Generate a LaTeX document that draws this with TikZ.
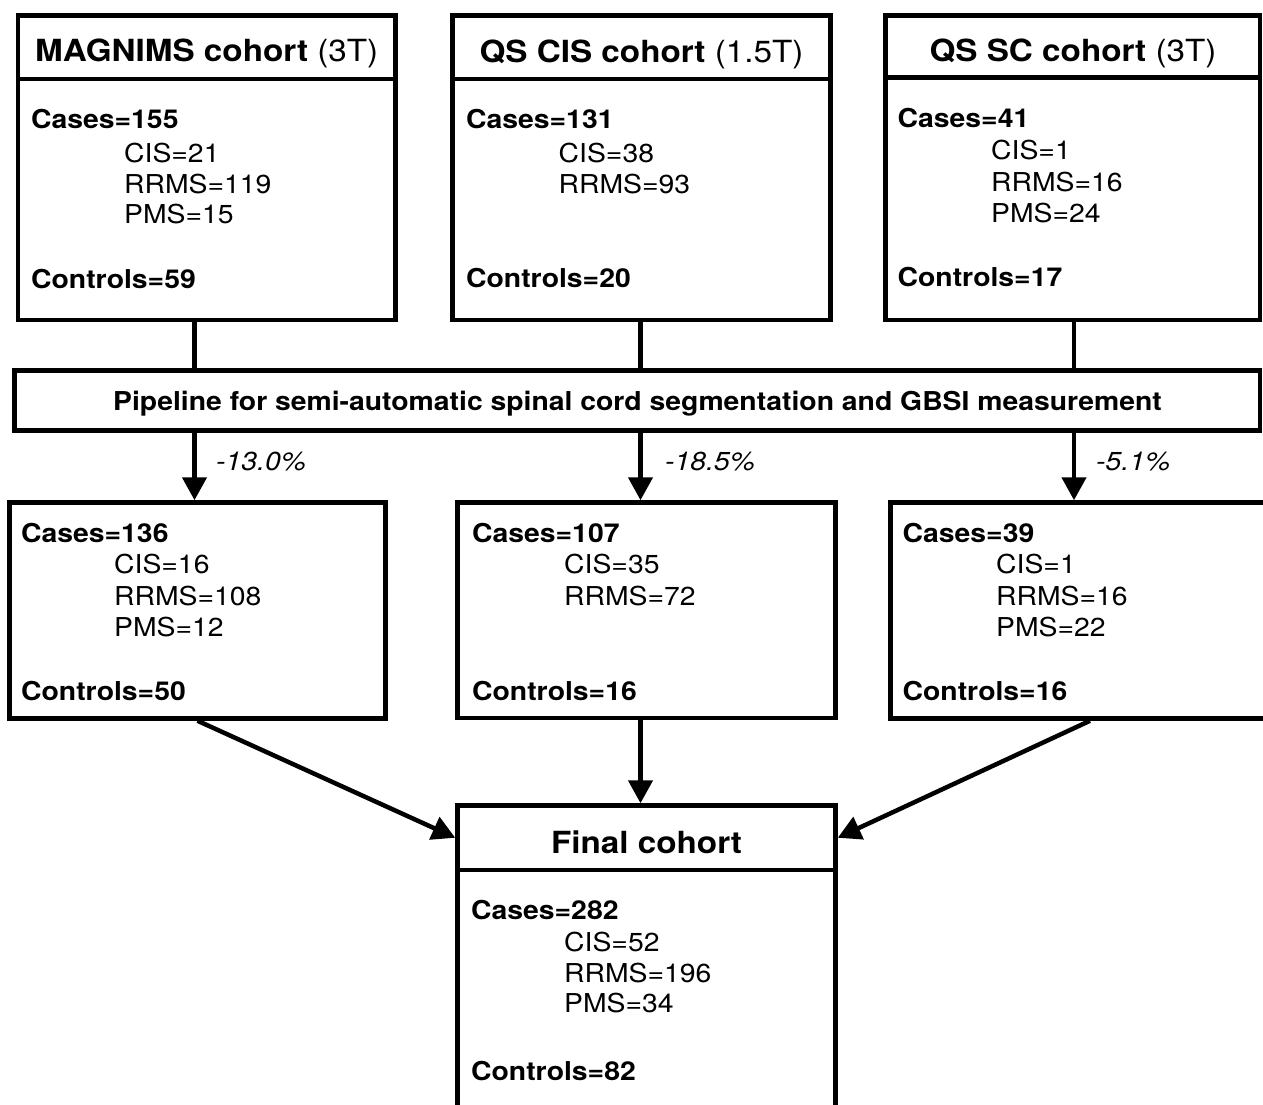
\documentclass[tikz,border=0pt]{standalone}
\usepackage{fontspec}
\setmainfont{TeX Gyre Heros}[FakeStretch=1.09]
\usetikzlibrary{arrows.meta}
\tikzset{
  frame/.style={draw=black, line width=4.5pt, inner sep=0pt, outer sep=2.25pt, rectangle, fill=white},
  body/.style={anchor=base west, inner sep=0pt, font=\fontsize{26}{31}\selectfont},
  bodyb/.style={anchor=base west, inner sep=0pt, font=\fontsize{26}{31}\selectfont\bfseries},
  head/.style={anchor=base, inner sep=0pt, font=\fontsize{30.5}{36}\selectfont},
  pipetext/.style={anchor=base, inner sep=0pt, font=\fontsize{26}{31}\selectfont\bfseries},
  pct/.style={anchor=base west, inner sep=0pt, font=\fontsize{26}{31}\selectfont\itshape},
  link/.style={line width=4.5pt},
  arr/.style={line width=4.5pt, -{Triangle[length=23pt,width=24pt]}},
}
\newcommand\mkbox[5]{%
  \pgfmathsetmacro\bxw{#4-#2}\pgfmathsetmacro\bxh{#5-#3}%
  \pgfmathsetmacro\bxc{(#2+#4)/2}\pgfmathsetmacro\byc{(#3+#5)/2}%
  \node[frame, minimum width=\bxw pt, minimum height=\bxh pt] (#1) at (\bxc,\byc) {};}
\begin{document}
\begin{tikzpicture}[x=1pt,y=-1pt]
\useasboundingbox (0,0) rectangle (1263,1104);
\clip (0,0) rectangle (1263,1104);
\fill[white] (0,0) rectangle (1263,1104);

% boxes
\mkbox{h1}{18}{15.5}{395.5}{79}
\mkbox{b1}{18}{79}{395.5}{320}
\mkbox{h2}{452.5}{15.5}{830.5}{79}
\mkbox{b2}{452.5}{79}{830.5}{320}
\mkbox{h3}{885.5}{15.5}{1260}{77.5}
\mkbox{b3}{885.5}{77.5}{1260}{320}
\mkbox{pipe}{14.5}{370.5}{1260}{430.5}
\mkbox{m1}{9.5}{502.5}{385.5}{718.5}
\mkbox{m2}{457.5}{502.5}{835.5}{718}
\mkbox{m3}{890.5}{502.5}{1290}{718.5}
\mkbox{fh}{457.5}{805.5}{835.5}{870}
\mkbox{fb}{457.5}{870}{835.5}{1120}

% column coordinates
\coordinate (c1) at (194.5,0);
\coordinate (c2) at (640.5,0);
\coordinate (c3) at (1074,0);
\coordinate (d3) at (1090,0);

% connectors
\draw[link] (b1.south -| c1) -- (pipe.north -| c1);
\draw[link] (b2.south -| c2) -- (pipe.north -| c2);
\draw[link] (b3.south -| c3) -- (pipe.north -| c3);
\draw[arr] (pipe.south -| c1) -- (m1.north -| c1);
\draw[arr] (pipe.south -| c2) -- (m2.north -| c2);
\draw[arr] (pipe.south -| c3) -- (m3.north -| c3);
\draw[arr] (m1.south) -- (fh.west);
\draw[arr] (m2.south -| c2) -- (fh.north -| c2);
\draw[arr] (m3.south -| d3) -- (fh.east);

% headers
\node[head] (t1h) at (206.75,61.7) {\bfseries MAGNIMS cohort\mdseries{} (3T)};
\node[head] (t2h) at (641.5,62.3) {\bfseries QS CIS cohort\mdseries{} (1.5T)};
\node[head] (t3h) at (1073,61.5) {\bfseries QS SC cohort\mdseries{} (3T)};
\node[head] (tfh) at (646.5,853.3) {\bfseries Final cohort};

% MAGNIMS body
\node[bodyb] (t1a) at (31,128) {Cases=155};
\node[body]  (t1b) at (124,162) {CIS=21};
\node[body]  (t1c) at (124,193) {RRMS=119};
\node[body]  (t1d) at (124,223) {PMS=15};
\node[bodyb] (t1e) at (31,288) {Controls=59};

% QS CIS body
\node[bodyb] (t2a) at (466,128) {Cases=131};
\node[body]  (t2b) at (558.5,162.5) {CIS=38};
\node[body]  (t2c) at (558.5,193) {RRMS=93};
\node[bodyb] (t2e) at (466,287) {Controls=20};

% QS SC body
\node[bodyb] (t3a) at (897.5,127) {Cases=41};
\node[body]  (t3b) at (991,159.5) {CIS=1};
\node[body]  (t3c) at (991,191) {RRMS=16};
\node[body]  (t3d) at (991,222) {PMS=24};
\node[bodyb] (t3e) at (897.5,286) {Controls=17};

% pipeline
\node[pipetext] (tp) at (637.5,410.7) {Pipeline for semi-automatic spinal cord segmentation and GBSI measurement};

% percentages
\node[pct] (p1) at (216,470) {-13.0\%};
\node[pct] (p2) at (665,470) {-18.5\%};
\node[pct] (p3) at (1096,470) {-5.1\%};

% middle left
\node[bodyb] (u1a) at (21,542.7) {Cases=136};
\node[body]  (u1b) at (114,573.3) {CIS=16};
\node[body]  (u1c) at (114,605) {RRMS=108};
\node[body]  (u1d) at (114,636) {PMS=12};
\node[bodyb] (u1e) at (21,700.7) {Controls=50};

% middle centre
\node[bodyb] (u2a) at (472,542.7) {Cases=107};
\node[body]  (u2b) at (564,573.3) {CIS=35};
\node[body]  (u2c) at (564,605) {RRMS=72};
\node[bodyb] (u2e) at (472,700) {Controls=16};

% middle right
\node[bodyb] (u3a) at (902.5,542.7) {Cases=39};
\node[body]  (u3b) at (996,573) {CIS=1};
\node[body]  (u3c) at (996,605) {RRMS=16};
\node[body]  (u3d) at (996,636) {PMS=22};
\node[bodyb] (u3e) at (902.5,700) {Controls=16};

% final
\node[bodyb] (fa) at (471,919.3) {Cases=282};
\node[body]  (fbb) at (564,951.7) {CIS=52};
\node[body]  (fc) at (564,982.7) {RRMS=196};
\node[body]  (fd) at (564,1012.7) {PMS=34};
\node[bodyb] (fe) at (471,1080) {Controls=82};
\end{tikzpicture}
\end{document}
